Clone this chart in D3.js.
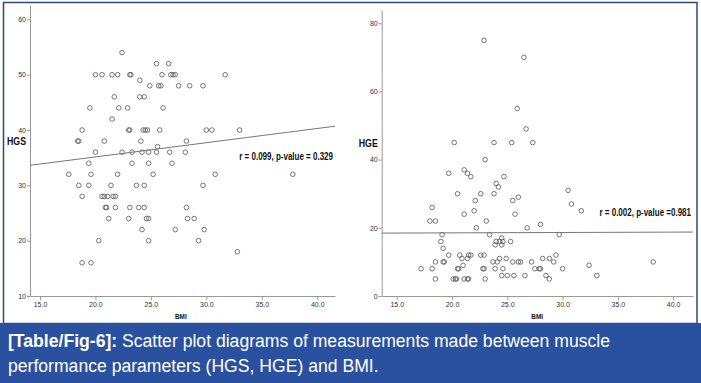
<!DOCTYPE html>
<html>
<head>
<meta charset="utf-8">
<script src="https://cdn.jsdelivr.net/npm/d3@7"></script>
<style>
    body { margin: 0; background: #fff; }
    svg { display: block; }
    .tick text { font-family: "Liberation Sans", Arial, sans-serif; font-size: 7px; fill: #333; }
    .tick line, .domain { stroke: #999; }
    .lbl { font-family: "Liberation Sans", Arial, sans-serif; font-weight: bold; fill: #111; }
</style>
</head>
<body>
<div id="chart"></div>
<script>
// HGS vs BMI (left panel)
const hgsPoints = [
    [22.4, 54], [25.5, 52], [26.6, 52],
    [20.0, 50], [20.6, 50], [21.5, 50], [22.0, 50], [23.1, 50], [23.2, 50], [26.0, 50], [26.8, 50], [27.0, 50], [27.2, 50], [31.7, 50],
    [24.0, 49],
    [24.9, 48], [25.7, 48], [25.9, 48], [27.5, 48], [28.5, 48], [29.7, 48],
    [21.7, 46], [24.0, 46], [24.4, 46],
    [19.5, 44], [22.1, 44], [22.9, 44], [26.1, 44],
    [21.5, 42],
    [18.8, 40], [23.0, 40], [23.1, 40], [24.3, 40], [24.5, 40], [24.7, 40], [25.8, 40], [30.0, 40], [30.5, 40], [33.0, 40],
    [18.4, 38], [18.5, 38], [20.8, 38], [24.1, 38], [28.2, 38],
    [25.6, 37],
    [20.0, 36], [22.4, 36], [23.3, 36], [24.2, 36], [24.8, 36], [25.5, 36], [26.7, 36], [28.1, 36],
    [19.4, 34], [23.3, 34], [24.8, 34], [26.9, 34],
    [17.6, 32], [19.6, 32], [22.0, 32], [25.2, 32], [30.8, 32], [37.8, 32],
    [18.5, 30], [19.4, 30], [21.4, 30], [23.7, 30], [24.4, 30], [29.7, 30],
    [18.8, 28], [20.6, 28], [20.8, 28], [21.1, 28], [21.6, 28], [21.8, 28],
    [20.9, 26], [21.0, 26], [21.8, 26], [23.1, 26], [23.9, 26], [24.4, 26], [28.2, 26],
    [21.2, 24], [23.0, 24], [24.6, 24], [24.8, 24], [28.3, 24], [28.9, 24],
    [24.2, 22], [27.2, 22], [29.8, 22],
    [20.3, 20], [24.8, 20], [29.3, 20],
    [32.8, 18],
    [18.8, 16], [19.6, 16]
];

// HGE vs BMI (right panel)
const hgePoints = [
    [22.9, 75], [26.5, 70], [25.9, 55], [26.7, 49],
    [20.2, 45], [23.8, 45], [25.4, 45], [27.3, 45],
    [23.0, 40],
    [19.7, 36], [21.1, 37], [21.4, 36], [21.7, 35], [24.7, 35],
    [24.0, 33], [24.2, 32],
    [20.5, 30], [22.6, 30], [23.8, 30], [26.0, 29], [25.5, 28], [22.1, 28],
    [30.5, 31], [30.8, 27], [31.7, 25],
    [18.2, 26], [22.0, 25], [21.1, 24], [25.7, 24],
    [18.0, 22], [18.5, 22], [23.1, 22],
    [26.8, 20], [28.0, 21], [22.2, 20],
    [19.1, 18], [23.4, 18], [29.7, 18],
    [19.0, 16], [24.0, 16], [24.3, 16], [24.6, 16], [25.3, 16], [24.5, 17], [23.9, 15], [24.5, 15], [19.2, 14],
    [19.7, 12], [20.7, 12], [21.5, 12], [21.7, 12], [22.6, 12], [22.9, 12], [29.4, 12],
    [20.9, 11], [21.4, 11], [24.3, 11], [24.9, 11], [28.2, 11], [28.8, 11],
    [18.5, 10], [19.2, 10], [19.3, 10], [23.7, 10], [24.1, 10], [25.5, 10], [26.0, 10], [26.2, 10], [27.2, 10], [29.2, 10], [38.2, 10],
    [21.0, 9], [32.4, 9],
    [17.2, 8], [18.2, 8], [20.5, 8], [20.6, 8], [22.8, 8], [22.9, 8], [23.9, 8], [24.6, 8], [27.5, 8], [27.9, 8], [28.0, 8], [30.0, 8],
    [24.5, 6], [25.0, 6], [25.6, 6], [26.6, 6], [28.5, 6], [33.1, 6],
    [18.5, 5], [20.1, 5], [20.3, 5], [20.4, 5], [21.1, 5], [21.4, 5], [21.5, 5], [23.0, 5], [28.8, 5]
];

const bmiTicks = [15, 20, 25, 30, 35, 40];
const hgsTicks = [10, 20, 30, 40, 50, 60];
const hgeTicks = [0, 20, 40, 60, 80];

// fit lines: intercept, slope
const hgsFit = [30.0, 0.257];
const hgeFit = [18.3, 0.011];

const hgsNote = 'r = 0.099, p-value = 0.329';
const hgeNote = 'r = 0.002, p-value =0.981';

const caption1 = 'Scatter plot diagrams of measurements made between muscle';
const caption2 = 'performance parameters (HGS, HGE) and BMI.';

const W = 701, H = 383;
const svg = d3.select('#chart').append('svg')
    .attr('width', W)
    .attr('height', H);

svg.append('rect')
    .attr('x', 0).attr('y', 0).attr('width', W).attr('height', H)
    .attr('fill', '#fff');

// narrow bold label (the original uses a condensed face)
function narrowText(g, x, y, size, anchor, txt) {
    g.append('text')
        .attr('class', 'lbl')
        .attr('transform', `translate(${x}, ${y}) scale(0.8, 1)`)
        .attr('text-anchor', anchor)
        .style('font-size', size + 'px')
        .text(txt);
}

function drawPanel(cfg) {
    const x = d3.scaleLinear().domain(cfg.xDomain).range(cfg.xRange);
    const y = d3.scaleLinear().domain(cfg.yDomain).range(cfg.yRange);
    const g = svg.append('g');

    g.append('g')
        .attr('transform', `translate(0, ${cfg.yRange[0]})`)
        .call(d3.axisBottom(x).tickValues(bmiTicks).tickFormat(d3.format('.1f')).tickSize(4).tickSizeOuter(0).tickPadding(2));
    g.append('g')
        .attr('transform', `translate(${cfg.xRange[0]}, 0)`)
        .call(d3.axisLeft(y).tickValues(cfg.yTicks).tickFormat(d3.format('d')).tickSize(3).tickSizeOuter(0).tickPadding(1));

    g.selectAll('circle')
        .data(cfg.points)
        .enter()
        .append('circle')
        .attr('cx', d => x(d[0]))
        .attr('cy', d => y(d[1]))
        .attr('r', 2.3)
        .attr('fill', 'none')
        .attr('stroke', '#555')
        .attr('stroke-width', 0.8);

    const line = d3.line().x(d => x(d)).y(d => y(cfg.fit[0] + cfg.fit[1] * d));
    g.append('path')
        .datum(cfg.xDomain)
        .attr('d', line)
        .attr('fill', 'none')
        .attr('stroke', '#777')
        .attr('stroke-width', 1);

    narrowText(g, x(cfg.xDomain[1]) - 2, cfg.notePos, 10, 'end', cfg.note);
    narrowText(g, cfg.xRange[0] - 23, cfg.yLabelPos, 11, 'start', cfg.yLabel);
    narrowText(g, x(27.7), cfg.yRange[0] + 23, 8, 'middle', 'BMI');
}

drawPanel({
    points: hgsPoints,
    xDomain: [14.1, 41.6], xRange: [30, 335],
    yDomain: [10, 62.6], yRange: [296, 5],
    yTicks: hgsTicks, fit: hgsFit,
    note: hgsNote, notePos: 160,
    yLabel: 'HGS', yLabelPos: 145
});

drawPanel({
    points: hgePoints,
    xDomain: [13.64, 41.8], xRange: [381.7, 693],
    yDomain: [0, 83.9], yRange: [296, 10],
    yTicks: hgeTicks, fit: hgeFit,
    note: hgeNote, notePos: 216,
    yLabel: 'HGE', yLabelPos: 147
});

// outer frame
svg.append('rect')
    .attr('x', 3.5).attr('y', 2.5)
    .attr('width', 693.5).attr('height', 321)
    .attr('fill', 'none')
    .attr('stroke', '#2f4a73')
    .attr('stroke-width', 1.5);

// caption box
svg.append('rect')
    .attr('x', 0).attr('y', 323)
    .attr('width', W).attr('height', H - 323)
    .attr('fill', '#2a51a0');

const cap = svg.append('text')
    .attr('fill', '#fff')
    .style('font-family', '"Liberation Sans", Arial, sans-serif')
    .style('font-size', '17.6px');
const l1 = cap.append('tspan').attr('x', 8).attr('y', 347);
l1.append('tspan').style('font-weight', 'bold').text('[Table/Fig-6]:');
l1.append('tspan').text(' ' + caption1);
cap.append('tspan').attr('x', 8).attr('y', 372).text(caption2);
</script>
</body>
</html>
